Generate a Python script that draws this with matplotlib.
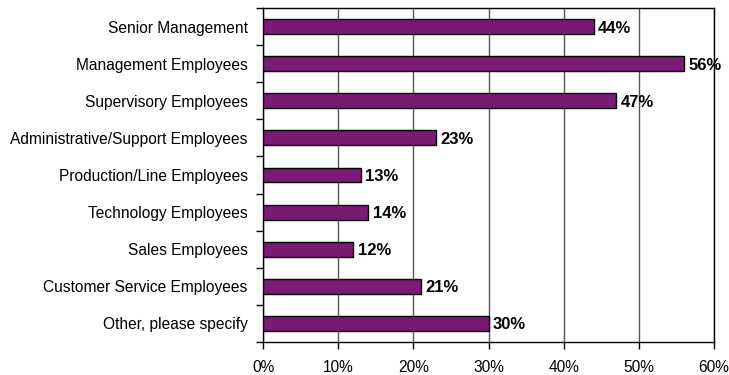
import numpy as np
import matplotlib.pyplot as plt
from matplotlib.ticker import FixedLocator

plt.rcParams['font.family'] = ['Liberation Sans', 'DejaVu Sans']

categories = [
    "Senior Management",
    "Management Employees",
    "Supervisory Employees",
    "Administrative/Support Employees",
    "Production/Line Employees",
    "Technology Employees",
    "Sales Employees",
    "Customer Service Employees",
    "Other, please specify",
]
values = [44, 56, 47, 23, 13, 14, 12, 21, 30]
x_ticks = [0, 10, 20, 30, 40, 50, 60]

fig = plt.figure(figsize=(7.29, 3.75), dpi=100)
ax = fig.add_axes([0.3608, 0.088, 0.6186, 0.8907])

y = np.arange(len(categories))
ax.barh(y, values, height=0.4, color='#7B1A74', edgecolor='black', linewidth=1.0, zorder=3)

for yi, v in zip(y, values):
    ax.text(v + 0.6, yi + 0.04, f"{v}%", va='center', ha='left',
            fontsize=12, fontweight='bold', zorder=4)

ax.set_xlim(0, 60)
ax.set_ylim(len(categories) - 0.5, -0.5)
ax.set_xticks(x_ticks)
ax.set_xticklabels([f"{t}%" for t in x_ticks], fontsize=11.2)
ax.set_yticks(y)
ax.set_yticklabels(categories, fontsize=11.2)
ax.tick_params(axis='y', length=0, pad=11)
ax.yaxis.set_minor_locator(FixedLocator(np.arange(-0.5, len(categories), 1.0)))
ax.tick_params(axis='y', which='minor', length=5, width=1, direction='out')
ax.tick_params(axis='x', length=5, width=1, direction='out', pad=8)

ax.grid(axis='x', color='#555555', linewidth=1.0, zorder=0)
for s in ax.spines.values():
    s.set_linewidth(1.0)
    s.set_color('black')

fig.savefig('out.png', dpi=100)
